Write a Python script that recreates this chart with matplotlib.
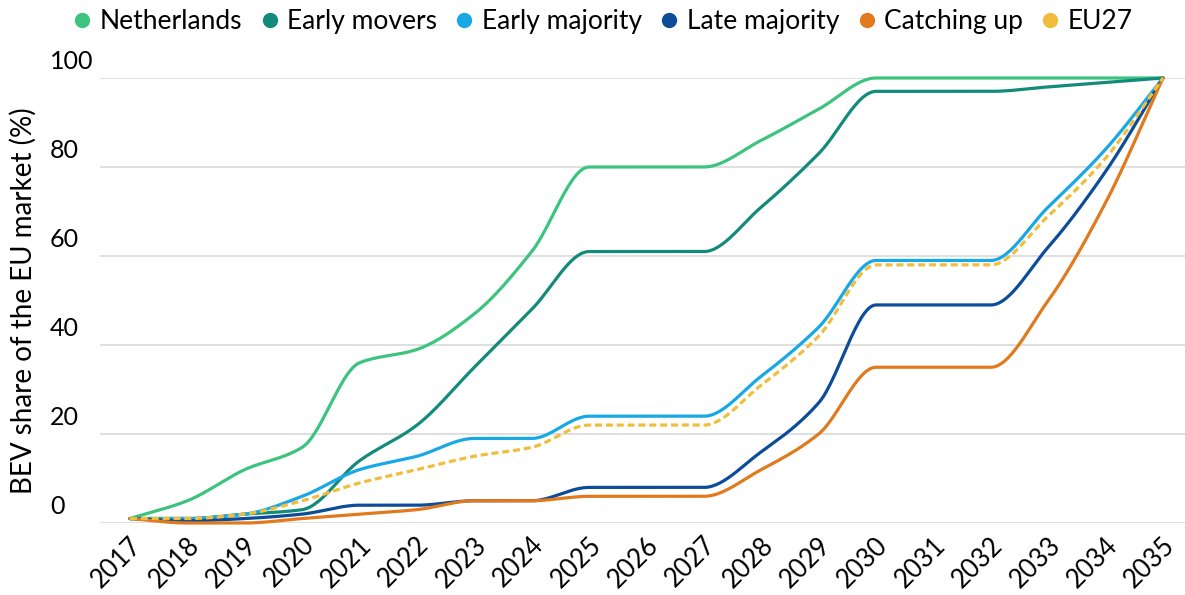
import numpy as np
import matplotlib.pyplot as plt
from matplotlib.lines import Line2D
import matplotlib.transforms as mtransforms

plt.rcParams['font.family'] = ['Lato', 'DejaVu Sans']

years = list(range(2017, 2036))

netherlands = [1, 5, 12, 17, 36, 39, 47, 61, 80, 80, 80, 86, 93, 100, 100, 100, 100, 100, 100]
early_movers = [1, 1, 2, 3, 14, 22, 35, 48, 61, 61, 61, 71, 83, 97, 97, 97, 98, 99, 100]
early_majority = [1, 1, 2, 6, 12, 15, 19, 19, 24, 24, 24, 33, 44, 59, 59, 59, 71, 84, 100]
late_majority = [1, 0.5, 1, 2, 4, 4, 5, 5, 8, 8, 8, 16, 27, 49, 49, 49, 62, 79, 100]
catching_up = [1, 0, 0, 1, 2, 3, 5, 5, 6, 6, 6, 12, 20, 35, 35, 35, 50, 72, 100]
eu27 = [1, 1, 2, 5, 9, 12, 15, 17, 22, 22, 22, 31, 42, 58, 58, 58, 69, 82, 100]

names = ["Netherlands", "Early movers", "Early majority", "Late majority", "Catching up", "EU27"]
series = [netherlands, early_movers, early_majority, late_majority, catching_up, eu27]
colors = ["#3cc47f", "#138b7b", "#18a8e6", "#0c4c99", "#e07a1c", "#f0bd3c"]
styles = ["-", "-", "-", "-", "-", "--"]


def smooth(x, y, n=30):
    # monotone cubic (Fritsch-Carlson) so that flat stretches stay flat
    x = np.asarray(x, float)
    y = np.asarray(y, float)
    h = np.diff(x)
    d = np.diff(y) / h
    m = np.zeros_like(y)
    m[0], m[-1] = d[0], d[-1]
    for i in range(1, len(y) - 1):
        if d[i - 1] * d[i] > 0:
            w1 = 2 * h[i] + h[i - 1]
            w2 = h[i] + 2 * h[i - 1]
            m[i] = (w1 + w2) / (w1 / d[i - 1] + w2 / d[i])
    xs, ys = [], []
    for i in range(len(x) - 1):
        t = np.linspace(0, 1, n, endpoint=False)
        h00 = 2 * t**3 - 3 * t**2 + 1
        h10 = t**3 - 2 * t**2 + t
        h01 = -2 * t**3 + 3 * t**2
        h11 = t**3 - t**2
        xs.append(x[i] + t * h[i])
        ys.append(h00 * y[i] + h10 * h[i] * m[i] + h01 * y[i + 1] + h11 * h[i] * m[i + 1])
    xs.append([x[-1]])
    ys.append([y[-1]])
    return np.concatenate(xs), np.concatenate(ys)


fig = plt.figure(figsize=(11.85, 5.95), dpi=100)
ax = fig.add_axes([100 / 1185, 1 - 523 / 595, 1 - 100 / 1185, (523 - 78) / 595])

for name, vals, c, ls in zip(names, series, colors, styles):
    sx, sy = smooth(years, vals)
    ax.plot(sx, sy, color=c, lw=2.3, ls=ls, dashes=(2.2, 1.2) if ls == "--" else (None, None),
            clip_on=False, solid_capstyle="round")

ax.set_xlim(2017 - 30 / 57.4, 2035 + 22 / 57.4)
ax.set_ylim(0, 100)
ax.set_xticks(years)
ax.set_xticklabels([str(y) for y in years], rotation=45, ha="right", va="center",
                   rotation_mode="anchor", fontsize=18.5)
ax.set_yticks([0, 20, 40, 60, 80, 100])
ax.set_yticklabels(["0", "20", "40", "60", "80", "100"], fontsize=18)
ax.tick_params(axis="x", length=0, pad=13)
ax.tick_params(axis="y", length=0, pad=0)
xoff = mtransforms.ScaledTranslation(8 / 100, 0, fig.dpi_scale_trans)
for lab in ax.get_xticklabels():
    lab.set_transform(lab.get_transform() + xoff)
offset = mtransforms.ScaledTranslation(-50 / 100, 5 / 100, fig.dpi_scale_trans)
for lab in ax.get_yticklabels():
    lab.set_ha("left")
    lab.set_va("bottom")
    lab.set_transform(lab.get_transform() + offset)

ax.grid(axis="y", color="#d9d9d9", lw=1.2)
ax.set_axisbelow(True)
for s in ax.spines.values():
    s.set_visible(False)

ax.set_ylabel("BEV share of the EU market (%)", fontsize=20)
ax.yaxis.set_label_coords(-63 / 1085, 0.5)

handles = [Line2D([], [], ls="none", marker="o", ms=10, color=c) for c in colors]
fig.legend(handles, names, loc="upper center", bbox_to_anchor=(0.507, 1.025), ncol=6, frameon=False,
           fontsize=19, handletextpad=0.15, columnspacing=0.55, handlelength=1.0)

fig.savefig("out.png", dpi=100)
